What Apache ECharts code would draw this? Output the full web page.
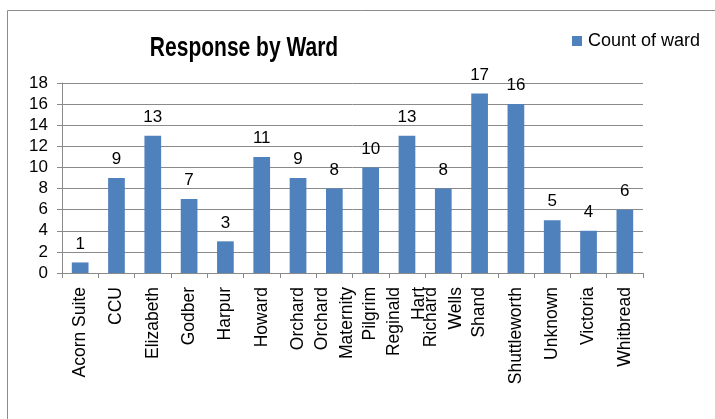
<!DOCTYPE html>
<html>
<head>
<meta charset="utf-8">
<script src="https://cdn.jsdelivr.net/npm/echarts@6/dist/echarts.min.js"></script>
<style>
  html, body { margin: 0; padding: 0; background: #fff; }
  #chart { width: 715px; height: 419px; }
</style>
</head>
<body>
<div id="chart"></div>
<script>
// Ward names (two-word wards wrap onto two lines)
const wards = [
  'Acorn Suite', 'CCU', 'Elizabeth', 'Godber', 'Harpur', 'Howard', 'Orchard',
  'Orchard\nMaternity', 'Pilgrim', 'Reginald\nHart', 'Richard\nWells', 'Shand',
  'Shuttleworth', 'Unknown', 'Victoria', 'Whitbread'
];
// Number of responses per ward
const counts = [1, 9, 13, 7, 3, 11, 9, 8, 10, 13, 8, 17, 16, 5, 4, 6];
// Value axis ticks
const yTicks = [0, 2, 4, 6, 8, 10, 12, 14, 16, 18];

const FONT = "'Liberation Sans', Arial, sans-serif";
const GRID_GREY = '#8a8a8a';

const chart = echarts.init(document.getElementById('chart'), null, { renderer: 'canvas' });

chart.setOption({
  animation: false,
  backgroundColor: '#ffffff',
  legend: {
    left: 572,
    top: 32,
    padding: 0,
    icon: 'rect',
    itemWidth: 10,
    itemHeight: 10,
    itemGap: 6,
    textStyle: { fontFamily: FONT, fontSize: 18, color: '#000', padding: [0, 0, 0, 1] },
    data: ['Count of ward']
  },
  grid: { left: 62, right: 72, top: 83, bottom: 146, containLabel: false },
  xAxis: {
    type: 'category',
    data: wards,
    axisLine: { lineStyle: { color: GRID_GREY, width: 1 } },
    axisTick: { show: true, alignWithLabel: false, length: 5, lineStyle: { color: GRID_GREY } },
    axisLabel: {
      rotate: 90,
      interval: 0,
      margin: 14,
      fontFamily: FONT,
      fontSize: 17.5,
      lineHeight: 25,
      color: '#000'
    }
  },
  yAxis: {
    type: 'value',
    min: yTicks[0],
    max: yTicks[yTicks.length - 1],
    interval: yTicks[1] - yTicks[0],
    axisLine: { show: true, lineStyle: { color: GRID_GREY, width: 1 } },
    axisTick: { show: true, length: 5, lineStyle: { color: GRID_GREY } },
    splitLine: { show: true, lineStyle: { color: GRID_GREY, width: 1 } },
    axisLabel: { margin: 14, fontFamily: FONT, fontSize: 17, color: '#000' }
  },
  series: [{
    name: 'Count of ward',
    type: 'bar',
    data: counts,
    barWidth: '46%',
    itemStyle: { color: '#4f81bd' },
    label: {
      show: true,
      position: 'top',
      distance: 10,
      fontFamily: FONT,
      fontSize: 17,
      color: '#000'
    }
  }],
  graphic: [
    {
      // chart title, set in a condensed bold face
      type: 'text',
      x: 244,
      y: 48,
      scaleX: 0.75,
      silent: true,
      style: {
        text: 'Response by Ward',
        font: "bold 28px 'Liberation Sans', Arial, sans-serif",
        fill: '#000',
        textAlign: 'center',
        textVerticalAlign: 'middle'
      }
    },
    {
      // chart area frame
      type: 'rect',
      silent: true,
      z: -1,
      shape: { x: 7.5, y: 10.5, width: 760, height: 460 },
      style: { fill: 'none', stroke: '#8c8c8c', lineWidth: 1 }
    }
  ]
});
</script>
</body>
</html>
